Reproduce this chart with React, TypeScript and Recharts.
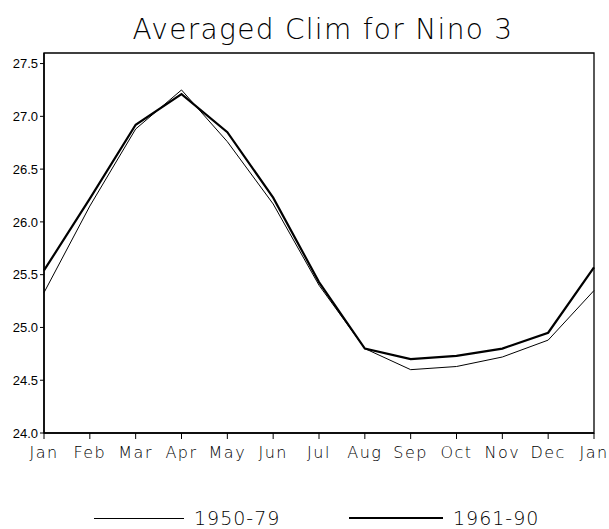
import React from 'react';
import { LineChart, Line, XAxis, YAxis, ReferenceArea } from 'recharts';

const months = ['Jan', 'Feb', 'Mar', 'Apr', 'May', 'Jun', 'Jul', 'Aug', 'Sep', 'Oct', 'Nov', 'Dec', 'Jan'];
const clim5079 = [25.33, 26.15, 26.88, 27.25, 26.76, 26.17, 25.40, 24.80, 24.60, 24.63, 24.72, 24.88, 25.35];
const clim6190 = [25.54, 26.22, 26.92, 27.21, 26.85, 26.23, 25.43, 24.80, 24.70, 24.73, 24.80, 24.95, 25.57];
const yTicks = [24.0, 24.5, 25.0, 25.5, 26.0, 26.5, 27.0, 27.5];
const xTicks = months.map((_, i) => i);
const seriesNames = ['1950-79', '1961-90'];

const data = months.map((m, i) => ({ x: i, a: clim5079[i], b: clim6190[i] }));

const FONT = '"DejaVu Sans", sans-serif';

const LegendRow = () => (
  <div style={{ position: 'absolute', left: 0, top: 504, width: 609, height: 30, fontFamily: FONT }}>
    <div style={{ position: 'absolute', left: 94, top: 14, width: 90, height: 0, borderTop: '1px solid #000' }} />
    <div style={{ position: 'absolute', left: 194, top: 2, fontSize: 19, letterSpacing: 1, fontWeight: 300, lineHeight: '24px', color: '#000' }}>{seriesNames[0]}</div>
    <div style={{ position: 'absolute', left: 349, top: 13, width: 94, height: 0, borderTop: '2.5px solid #000' }} />
    <div style={{ position: 'absolute', left: 453, top: 2, fontSize: 19, letterSpacing: 1, fontWeight: 300, lineHeight: '24px', color: '#000' }}>{seriesNames[1]}</div>
  </div>
);

export default function App() {
  return (
    <div style={{ position: 'absolute', left: 0, top: 0, width: 609, height: 529, background: '#fff' }}>
      <LineChart
        width={609}
        height={529}
        data={data}
        margin={{ top: 53, right: 15, bottom: 62, left: 0 }}
      >
        <text x={323} y={39} textAnchor="middle" fontFamily={FONT} fontSize={28} fontWeight={300} letterSpacing={1.3} fill="#000">
          Averaged Clim for Nino 3
        </text>
        <XAxis
          dataKey="x"
          type="number"
          domain={[0, 12]}
          ticks={xTicks}
          interval={0}
          tickFormatter={(v: number) => months[v]}
          axisLine={{ stroke: '#000', strokeWidth: 1.5 }}
          tickLine={{ stroke: '#000' }}
          tickSize={6}
          height={34}
          tick={{ fontFamily: FONT, fontSize: 16, fill: '#000', letterSpacing: 1.5, fontWeight: 300 }}
          tickMargin={8}
        />
        <YAxis
          type="number"
          domain={[24, 27.6]}
          ticks={yTicks}
          interval={0}
          allowDataOverflow
          tickFormatter={(v: number) => v.toFixed(1)}
          axisLine={{ stroke: '#000', strokeWidth: 1.5 }}
          tickLine={{ stroke: '#000' }}
          tickSize={4}
          width={44}
          tick={{ fontFamily: '"Liberation Sans", sans-serif', fontSize: 13, fill: '#000' }}
          tickMargin={2}
        />
        <ReferenceArea x1={0} x2={12} y1={24} y2={27.6} fill="none" stroke="#000" strokeWidth={1.3} ifOverflow="visible" />
        <Line type="linear" dataKey="a" name={seriesNames[0]} stroke="#000" strokeWidth={1} dot={false} isAnimationActive={false} />
        <Line type="linear" dataKey="b" name={seriesNames[1]} stroke="#000" strokeWidth={2.2} dot={false} isAnimationActive={false} />
      </LineChart>
      <LegendRow />
    </div>
  );
}
